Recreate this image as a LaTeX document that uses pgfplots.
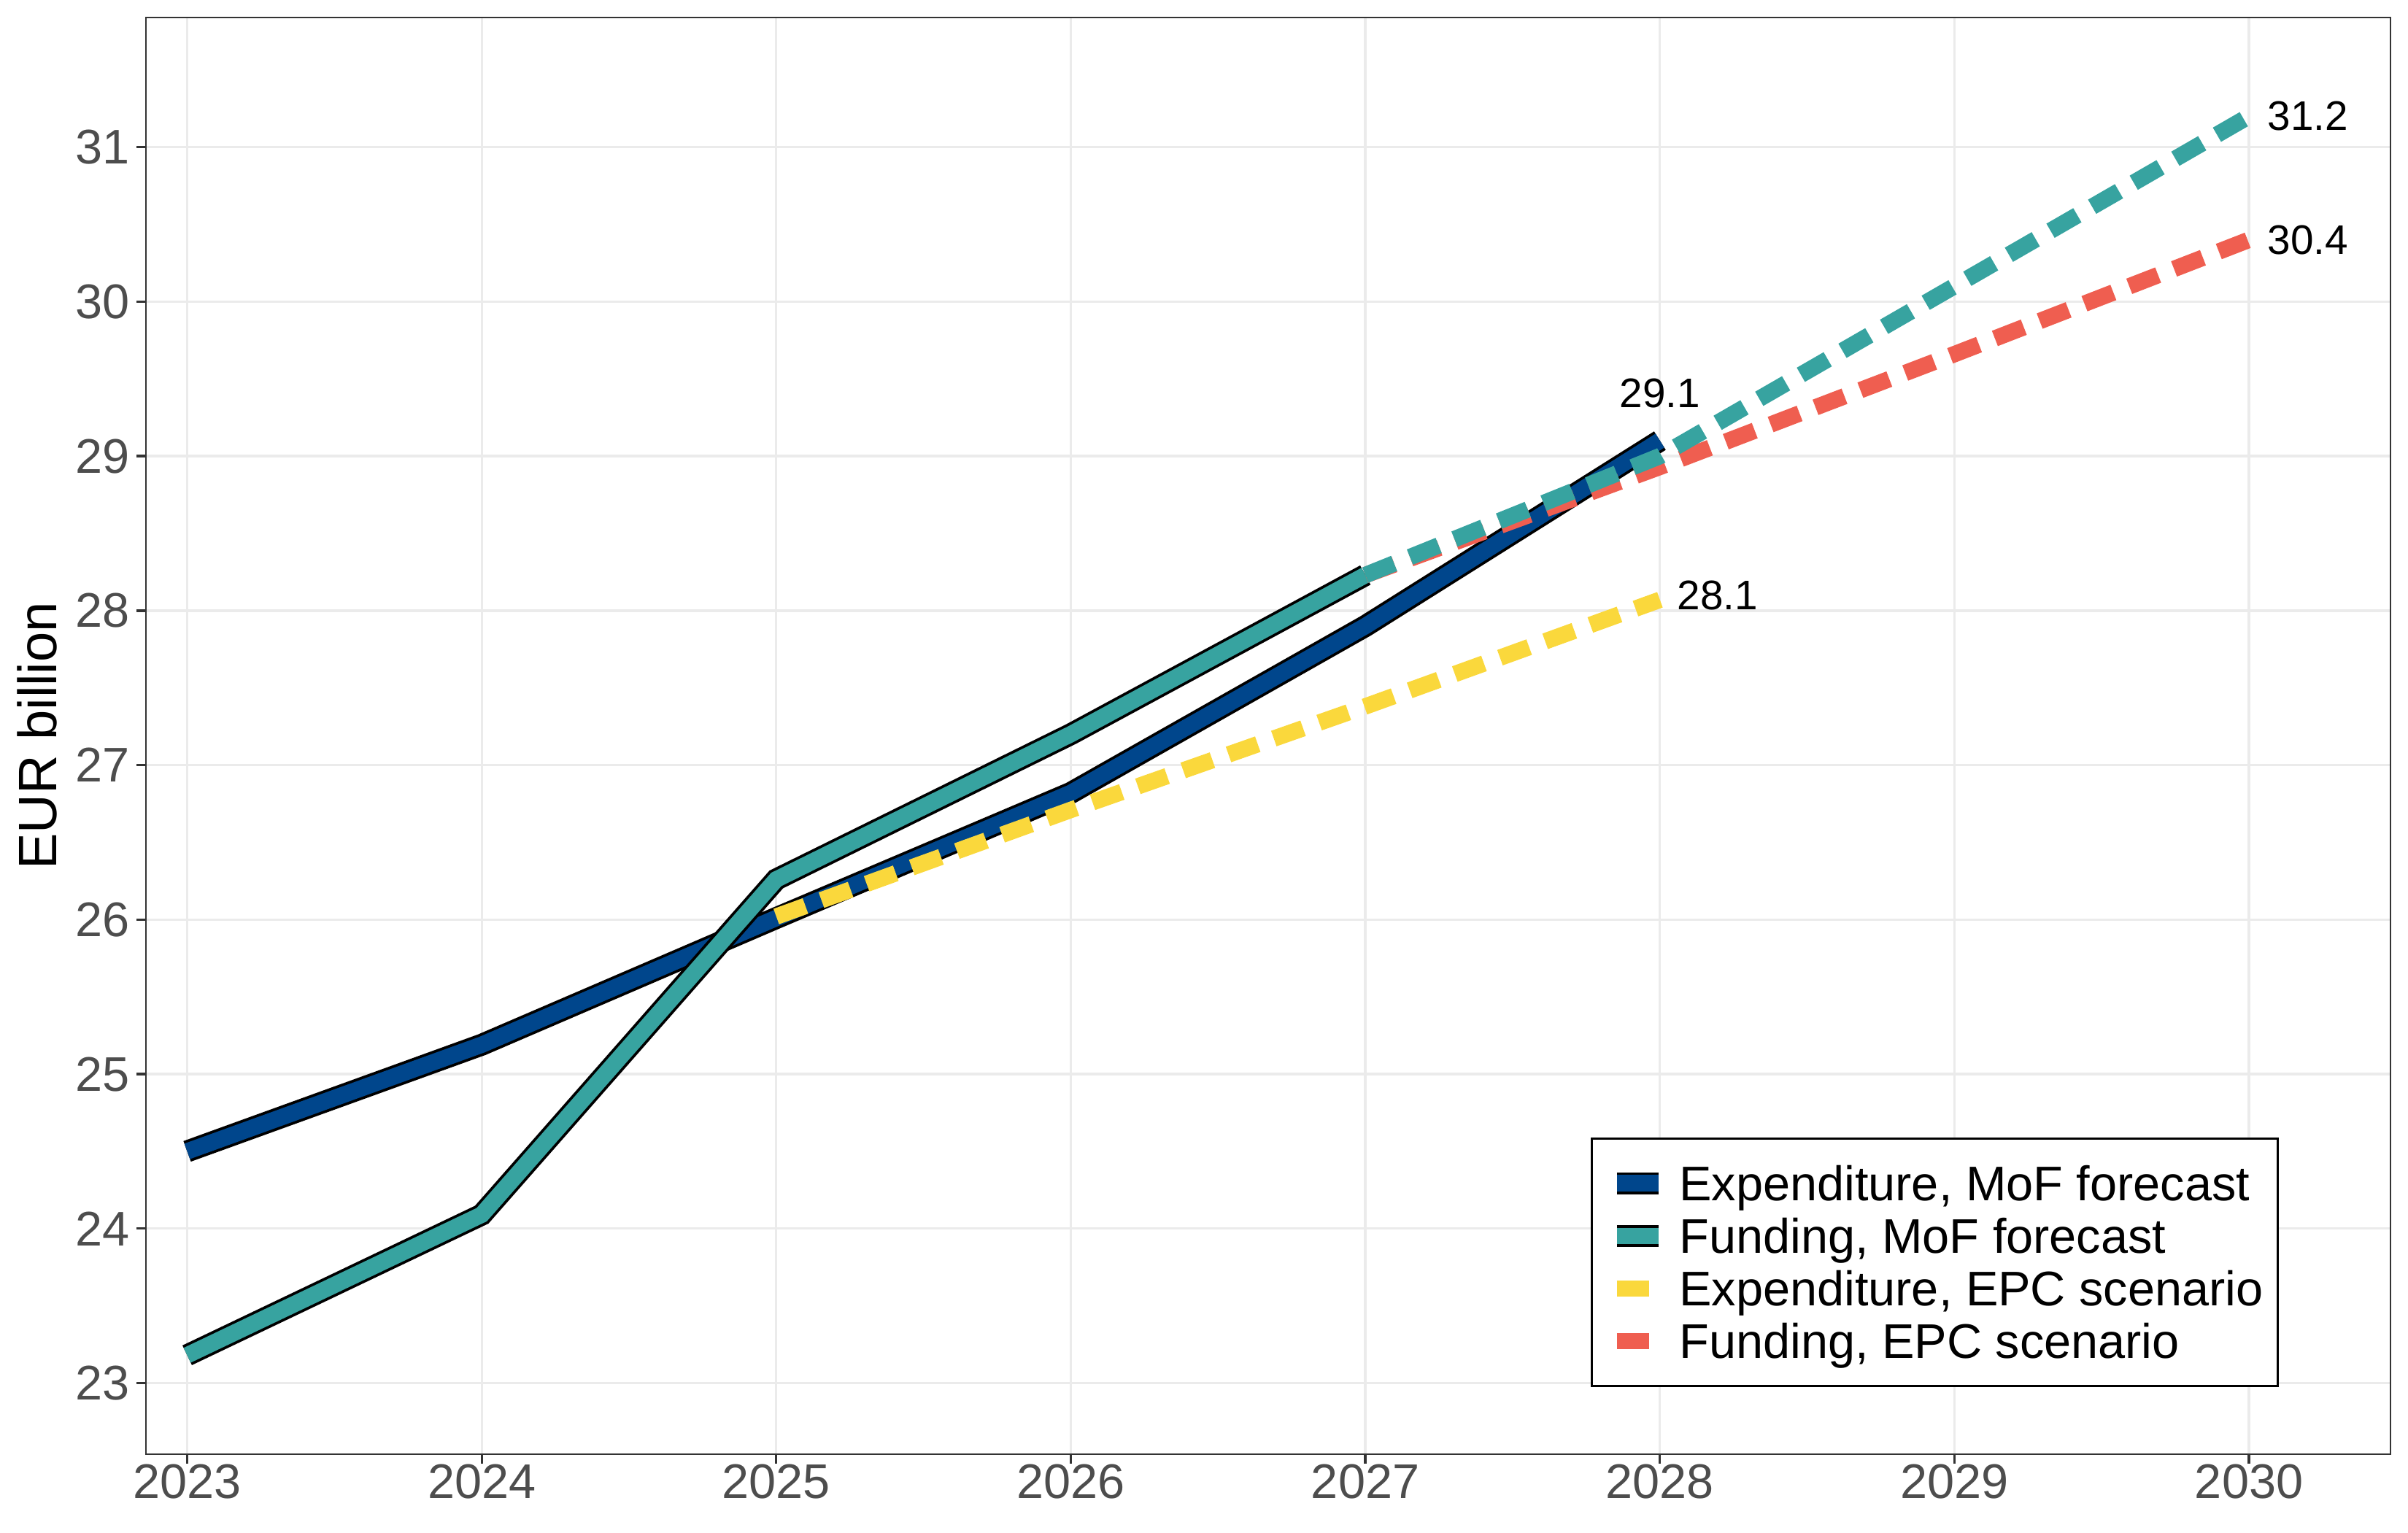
\documentclass[border=0pt]{standalone}
\usepackage{fontspec}
\setmainfont{Liberation Sans}
\usepackage{pgfplots}
\pgfplotsset{compat=1.18}
\definecolor{navyc}{HTML}{00468C}
\definecolor{tealc}{HTML}{37A3A0}
\definecolor{yellowc}{HTML}{FAD83C}
\definecolor{redc}{HTML}{EF5E50}
\definecolor{gridc}{HTML}{EBEBEB}
\definecolor{framec}{HTML}{333333}
\definecolor{tickc}{HTML}{4D4D4D}
\begin{document}
\begin{tikzpicture}
\begin{axis}[
  scale only axis, width=738.2pt, height=472.6pt,
  xmin=2022.86, xmax=2030.48, ymin=22.54, ymax=31.84,
  xtick={2023,2024,2025,2026,2027,2028,2029,2030},
  ytick={23,24,25,26,27,28,29,30,31},
  minor tick num=0,
  grid=major, major grid style={color=gridc, line width=0.8pt},
  axis line style={color=framec, line width=0.5pt},
  tick style={color=framec, line width=0.8pt},
  tick align=outside, major tick length=3.1pt,
  tick pos=left,
  ticklabel style={font=\fontsize{16pt}{18pt}\selectfont, text=tickc},
  xticklabel style={anchor=north, inner sep=0pt},
  yticklabel style={anchor=east, inner sep=0pt, xshift=-2pt},
  /pgf/number format/.cd, 1000 sep={}, assume math mode=true, /pgfplots/.cd,
  ylabel={EUR billion},
  ylabel style={at={(axis description cs:-0.03996,0.5)}, anchor=base, rotate=0, font=\fontsize{17.8pt}{20pt}\selectfont, text=black},
  legend cell align=left,
  legend style={at={(0.6437,0.2204)}, anchor=north west, draw=black, line width=0.65pt, fill=white,
    inner xsep=4.7pt, inner ysep=6.1pt, row sep=0pt,
    font=\fontsize{16pt}{18pt}\selectfont,
    nodes={inner sep=0pt, text height=14.38pt, text depth=2.92pt},
    /tikz/every odd column/.style={column sep=3.2pt}},
]
% Expenditure, MoF forecast
\addplot[black, line width=7.2pt, forget plot] coordinates {(2023,24.50)(2024,25.19)(2025,26.01)(2026,26.82)(2027,27.90)(2028,29.10)};
\addplot[navyc, line width=5.4pt,
  legend image code/.code={\draw[black,line width=7.2pt,solid] (0pt,0pt) -- (13.7pt,0pt); \draw[navyc,line width=5.4pt,solid] (0pt,0pt) -- (13.7pt,0pt);}]
  coordinates {(2023,24.50)(2024,25.19)(2025,26.01)(2026,26.82)(2027,27.90)(2028,29.10)};
\addlegendentry{Expenditure, MoF forecast}
% Funding, MoF forecast
\addplot[black, line width=7.2pt, forget plot] coordinates {(2023,23.18)(2024,24.09)(2025,26.26)(2026,27.20)(2027,28.23)};
\addplot[tealc, line width=5.4pt,
  legend image code/.code={\draw[black,line width=7.2pt,solid] (0pt,0pt) -- (13.7pt,0pt); \draw[tealc,line width=5.4pt,solid] (0pt,0pt) -- (13.7pt,0pt);}]
  coordinates {(2023,23.18)(2024,24.09)(2025,26.26)(2026,27.20)(2027,28.23)};
\addlegendentry{Funding, MoF forecast}
% Expenditure, EPC scenario
\addplot[yellowc, line width=5.4pt, dash pattern=on 10.2pt off 5.6pt,
  legend image code/.code={\draw[yellowc,line width=5.4pt,solid] (0pt,0pt) -- (10.6pt,0pt);}]
  coordinates {(2025,26.02)(2026,26.71)(2027,27.38)(2028,28.07)};
\addlegendentry{Expenditure, EPC scenario}
% Funding, EPC scenario
\addplot[redc, line width=5.4pt, dash pattern=on 10.2pt off 5.6pt,
  legend image code/.code={\draw[redc,line width=5.4pt,solid] (0pt,0pt) -- (10.6pt,0pt);}]
  coordinates {(2027,28.23)(2028,28.93)(2029,29.66)(2030,30.40)};
\addlegendentry{Funding, EPC scenario}
% Funding, MoF forecast (extension)
\addplot[tealc, line width=5.4pt, dash pattern=on 10.2pt off 5.6pt, forget plot]
  coordinates {(2027,28.23)(2028,29.00)(2029,30.10)(2030,31.20)};
% value labels
\node[anchor=base, inner sep=0pt, yshift=10.8pt, font=\fontsize{13.6pt}{15pt}\selectfont] at (axis cs:2028,29.10) {29.1};
\node[anchor=west, inner sep=0pt, xshift=5.5pt, font=\fontsize{13.6pt}{15pt}\selectfont] at (axis cs:2028,28.10) {28.1};
\node[anchor=west, inner sep=0pt, xshift=6pt, font=\fontsize{13.6pt}{15pt}\selectfont] at (axis cs:2030,31.20) {31.2};
\node[anchor=west, inner sep=0pt, xshift=6pt, font=\fontsize{13.6pt}{15pt}\selectfont] at (axis cs:2030,30.40) {30.4};
\end{axis}
\pgfresetboundingbox
\path[use as bounding box] (-48pt,-25.7pt) rectangle (744pt,478.3pt);
\end{tikzpicture}
\end{document}
